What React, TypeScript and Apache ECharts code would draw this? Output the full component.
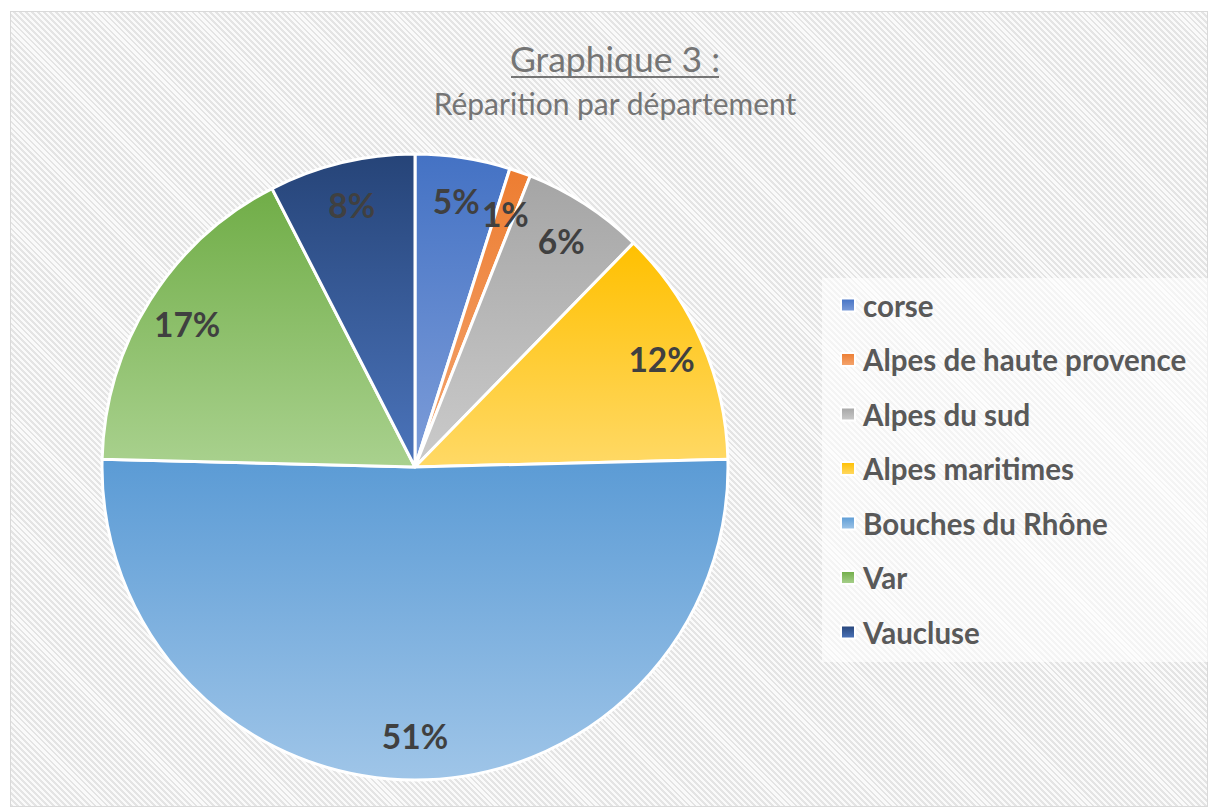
import React, { useEffect, useRef } from "react";
import * as echarts from "echarts";

const categories = [
  "corse",
  "Alpes de haute provence",
  "Alpes du sud",
  "Alpes maritimes",
  "Bouches du Rhône",
  "Var",
  "Vaucluse",
];
const values = [4.9, 1.1, 6.3, 12.3, 50.8, 17.05, 7.55];

const topColors = ["#4472C4", "#ED7D31", "#A5A5A5", "#FFC000", "#5B9BD5", "#70AD47", "#264478"];
const bottomColors = ["#7d9dd9", "#f4a671", "#cbcbcb", "#ffd966", "#9fc5e8", "#a9d18e", "#4b74bb"];

const titleText = "Graphique 3 :";
const subtitleText = "Réparition par département";

const FONT = "Lato, 'Noto Sans', sans-serif";

function grad(i: number) {
  return new echarts.graphic.LinearGradient(0, 0, 0, 1, [
    { offset: 0, color: topColors[i] },
    { offset: 1, color: bottomColors[i] },
  ]);
}

export default function App() {
  const ref = useRef<HTMLDivElement>(null);
  useEffect(() => {
    if (!ref.current) return;
    const chart = echarts.init(ref.current, undefined, { renderer: "svg" });
    const R = 313;
    const data = categories.map((name, i) => ({
      name,
      value: values[i],
      itemStyle: { color: grad(i) },
    }));
    const labelData = categories.map((name, i) => ({ name, value: values[i] }));
    chart.setOption({
      animation: false,
      graphic: [
        {
          type: "text",
          x: 615,
          y: 58,
          style: {
            text: titleText,
            font: `35.5px ${FONT}`,
            fill: "#757575",
            textAlign: "center",
            textVerticalAlign: "middle",
          },
        },
        {
          type: "line",
          shape: { x1: 511, y1: 77, x2: 719, y2: 77 },
          style: { stroke: "#757575", lineWidth: 2 },
        },
        {
          type: "text",
          x: 615,
          y: 103,
          style: {
            text: subtitleText,
            font: `30px ${FONT}`,
            fill: "#757575",
            textAlign: "center",
            textVerticalAlign: "middle",
          },
        },
      ],
      legend: {
        orient: "vertical",
        left: 822,
        top: 278,
        padding: [11, 30, 14, 18],
        backgroundColor: "rgba(255,255,255,0.6)",
        icon: "rect",
        itemWidth: 14,
        itemHeight: 13,
        itemGap: 22.5,
        selectedMode: false,
        data: categories,
        textStyle: {
          fontFamily: FONT,
          fontWeight: "bold",
          fontSize: 29.5,
          lineHeight: 32,
          color: "#595959",
          padding: [0, 0, 0, 3],
        },
      },
      series: [
        {
          type: "pie",
          center: [415, 467],
          radius: [0, R],
          startAngle: 90,
          clockwise: true,
          data,
          label: { show: false },
          labelLine: { show: false },
          itemStyle: { borderColor: "#ffffff", borderWidth: 3 },
          emphasis: { disabled: true },
        },
        {
          type: "pie",
          center: [415, 467],
          radius: [R * 0.7, R],
          startAngle: 90,
          clockwise: true,
          silent: true,
          data: labelData,
          itemStyle: { color: "rgba(0,0,0,0)", borderWidth: 0 },
          emphasis: { disabled: true },
          labelLine: { show: false },
          label: {
            show: true,
            position: "inside",
            formatter: (p: any) => `${Math.round(p.percent)}%`,
            fontFamily: FONT,
            fontWeight: "bold",
            fontSize: 33.5,
            color: "#404040",
          },
        },
      ],
    });
    return () => chart.dispose();
  }, []);

  return (
    <div
      style={{
        position: "fixed",
        left: 0,
        top: 0,
        width: 1208,
        height: 807,
        background: "#ffffff",
      }}
    >
      <div
        style={{
          position: "absolute",
          left: 10,
          top: 11,
          width: 1198,
          height: 796,
          boxSizing: "border-box",
          border: "1px solid #d9d9d9",
          background:
            "repeating-linear-gradient(45deg, #e4e4e4 0px, #e4e4e4 2px, #fafafa 2px, #fafafa 4.2px)",
        }}
      />
      <div ref={ref} style={{ position: "absolute", left: 0, top: 0, width: 1208, height: 807 }} />
    </div>
  );
}
